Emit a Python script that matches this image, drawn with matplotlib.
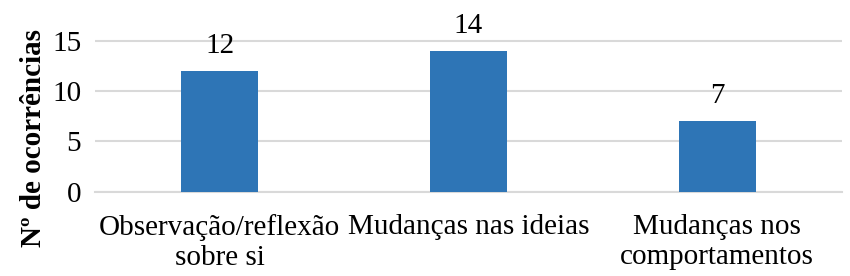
import matplotlib.pyplot as plt

plt.rcParams['font.family'] = ['Liberation Serif', 'DejaVu Serif']

categories = ["Observação/reflexão\nsobre si", "Mudanças nas ideias", "Mudanças nos\ncomportamentos"]
values = [12, 14, 7]
yticks = [0, 5, 10, 15]

fig = plt.figure(figsize=(8.5, 2.76), dpi=100)
ax = fig.add_axes([0.112, 0.306, 0.878, 0.60])

x = range(len(categories))
bars = ax.bar(x, values, width=0.31, color="#2E75B6", zorder=3)
for b, v in zip(bars, values):
    ax.text(b.get_x() + b.get_width() / 2, v + 1.2, str(v), ha="center", va="bottom", fontsize=21)

ax.set_xlim(-0.5, 2.5)
ax.set_ylim(0, 16.5)
ax.set_yticks(yticks)
ax.yaxis.grid(True, color="#D9D9D9", linewidth=1.5, zorder=0)
ax.set_xticks(list(x))
ax.set_xticklabels(categories, fontsize=21, linespacing=1.2)
ax.tick_params(axis="y", labelsize=21, length=0, pad=10)
ax.tick_params(axis="x", length=0, pad=16)
for s in ["top", "right", "left"]:
    ax.spines[s].set_visible(False)
ax.spines["bottom"].set_color("#D9D9D9")
ax.spines["bottom"].set_linewidth(1.5)
fig.text(0.039, 0.50, "Nº de ocorrências", fontsize=21, fontweight="bold",
         rotation=90, ha="center", va="center")

fig.savefig("out.png", dpi=100)
